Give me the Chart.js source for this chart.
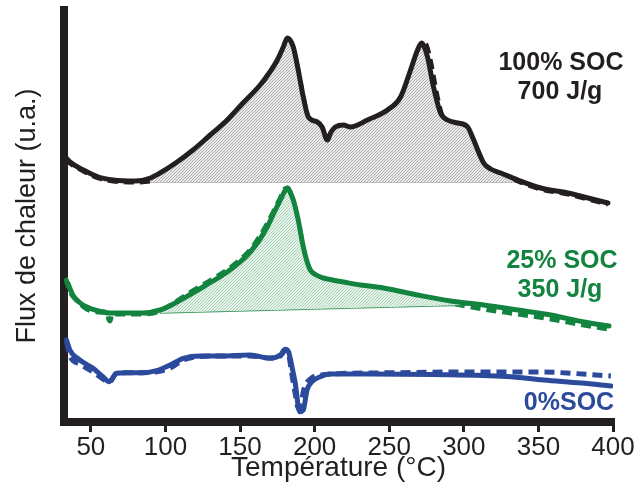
<!DOCTYPE html>
<html><head><meta charset="utf-8">
<script src="https://cdn.jsdelivr.net/npm/chart.js@4.4.1/dist/chart.umd.min.js"></script>
<style>html,body{margin:0;padding:0;background:#fff}</style>
</head><body>
<canvas id="c" width="640" height="491"></canvas>
<script>
// ---- data (temperature °C, heat flow in arbitrary units) ----
const xTicks = [50, 100, 150, 200, 250, 300, 350, 400];

const soc100SolidT = [33,36,45,55,65,80,90,96.4,107.8,118.5,130,141.4,152,163.5,170,175,179,181.7,183.5,185.7,189,192.4,195.8,201.8,205,208.5,211,213.9,219.3,224,235.4,248.8,257.6,264.3,269,271.7,273.5,275.7,279.7,284.4,289.1,296,302.6,306.6,313.3,318,324.8,336.2,351.6,369.8,383.2,396.6];
const soc100SolidY = [265,260,252,245,242,241,244,249,260,272,287,302,319,337,350,362,375,384,382,375,352,325,305,300,295,282,290,295,297,295,302,312,325,352,372,379,375,365,335,309,302,299,295,282,259,253,249,242,234,229,224,219];

const soc100DashT = [33,36,45,55,65,80,90,96.4,107.8,118.5,130,141.4,152,163.5,170,175,179,182,184,186,189,192.4,195.8,201.8,205,208.5,211,213.9,219.3,224,235.4,248.8,257.6,264.3,269,272.5,275,278,281.5,285,289.1,296,302.6,306.6,313.3,318,324.8,336.2,351.6,369.8,383.2,396.6];
const soc100DashY = [263,259,251,244,241,240,241,244,253,265,280,295,311,330,344,356,370,382,378,370,350,324,304,299,294,283,289,292,291,289,296,306,320,345,366,380,376,358,330,308,300,296,292,281,258,252,248,241,233,228,223,218];

const soc100BaseT = [89.6, 333.5];
const soc100BaseY = [240, 240];

const soc25SolidT = [34.5,37.9,42,47.3,55,62.8,75,84.9,96.4,107.8,116,125.2,133,141.4,150,156.8,163,168.2,173,177,180,181.7,183.5,185.7,189,192.4,195,197.1,201,205.8,212,219.3,230.7,246.2,269,291.2,313.3,336.2,358.3,380.5,397.3];
const soc25SolidY = [139,127,120,115,111,109,109,109,112,120,127,135,142,150,160,170,182,195,210,222,231,234,230,222,202,175,160,152,147,144,142,140,137,134,127,121,117,112,107,100,96];

const soc25DashT = [33,34.5,37,41,47.3,55,61,62,63,64,75,84.9,96.4,107.8,116,125.2,133,141.4,150,156.8,163,168.2,173,177,180,182,184,186,189,192.4,195,197.1,201,205.8,212,219.3,230.7,246.2,269,291.2,313.3,336.2,358.3,380.5,397.3];
const soc25DashY = [144,137,128,121,113,110,110,103,101,108,108,108,111,121,129,137,144,152,162,172,185,198,212,224,233,234,228,218,200,173,158,151,146,143,141,139,136,133,126,119,113,108,103,97,93];

const soc25BaseT = [96.4, 305];
const soc25BaseY = [109, 117];

const soc0SolidT = [33.7,35.9,42.6,51.5,58.1,62.3,67.3,74,84.9,94.1,103.1,112,123.2,136.7,156.8,170.2,177,180.3,182.5,184.8,187,189.9,192.4,194.9,198.3,203.8,210.6,237.4,278.9,328.8,353.6,378.8,398.6];
const soc0SolidY = [82,72,62,53.7,45.3,40.3,48.7,49.3,49.3,51.3,57,63.7,66,66,67,63.7,67,72.7,70.3,55.3,39,10.3,12,32,40.3,45.3,48,48,47.5,45.6,42,39,36];

const soc0DashT = [33.7,36,42.6,51.5,58.1,62.3,67.3,74,84.9,94.1,103.1,112,123.2,136.7,156.8,170.2,177,180.3,182.5,184.5,187,189,190.5,193,197,204,240,300,350,398.6];
const soc0DashY = [80,66,58,50,43,40,48.7,49.3,49.3,50.3,54,62,65.5,66,66,64,66,71,68,50,28,14,16,34,43,47,49,50,50,46];

const labels100 = ['100% SOC', '700 J/g'];
const labels25 = ['25% SOC', '350 J/g'];
const labels0 = ['0%SOC'];

// ---- styling ----
const FONT = '"Liberation Sans", Arial, Helvetica, sans-serif';
const INK = '#231f20';
const GREEN = '#12843f';
const BLUE = '#2c4a9c';

function pts(t, y) { return t.map((v, i) => ({x: v, y: y[i]})); }

function hatch(bg, line) {
  const c = document.createElement('canvas');
  c.width = 3; c.height = 3;
  const g = c.getContext('2d');
  g.fillStyle = bg; g.fillRect(0, 0, 3, 3);
  g.fillStyle = line;
  g.fillRect(2, 0, 1, 1);
  g.fillRect(1, 1, 1, 1);
  g.fillRect(0, 2, 1, 1);
  return g.createPattern(c, 'repeat');
}

const lineBase = {
  pointRadius: 0, borderWidth: 5, cubicInterpolationMode: 'monotone',
  borderJoinStyle: 'round', borderCapStyle: 'round', fill: false
};

const datasets = [
  Object.assign({}, lineBase, {label: '100 solid', data: pts(soc100SolidT, soc100SolidY), borderColor: INK,
    fill: {target: 6, above: hatch('#ebebeb', '#aeaeae'), below: 'rgba(0,0,0,0)'}}),
  Object.assign({}, lineBase, {label: '25 solid', data: pts(soc25SolidT, soc25SolidY), borderColor: GREEN,
    fill: {target: 7, above: hatch('#e8f3eb', '#a9d3b6'), below: 'rgba(0,0,0,0)'}}),
  Object.assign({}, lineBase, {label: '0 solid', data: pts(soc0SolidT, soc0SolidY), borderColor: BLUE}),
  Object.assign({}, lineBase, {label: '100 dash', data: pts(soc100DashT, soc100DashY), borderColor: INK, borderDash: [10, 6], borderCapStyle: 'butt'}),
  Object.assign({}, lineBase, {label: '25 dash', data: pts(soc25DashT, soc25DashY), borderColor: GREEN, borderDash: [10, 6], borderCapStyle: 'butt'}),
  Object.assign({}, lineBase, {label: '0 dash', data: pts(soc0DashT, soc0DashY), borderColor: BLUE, borderDash: [10, 6], borderCapStyle: 'butt'}),
  {label: '100 base', data: pts(soc100BaseT, soc100BaseY), borderColor: '#7a7a7a', borderWidth: 1.2, pointRadius: 0, fill: false},
  {label: '25 base', data: pts(soc25BaseT, soc25BaseY), borderColor: 'rgba(18,132,63,0.8)', borderWidth: 1.5, pointRadius: 0, fill: false}
];

const textPlugin = {
  id: 'curveLabels',
  afterDatasetsDraw(chart) {
    const ctx = chart.ctx;
    ctx.save();
    ctx.font = 'bold 25px ' + FONT;
    ctx.textAlign = 'center';
    ctx.textBaseline = 'alphabetic';
    ctx.fillStyle = INK;
    ctx.fillText(labels100[0], 561, 70);
    ctx.fillText(labels100[1], 560, 99);
    ctx.fillStyle = GREEN;
    ctx.fillText(labels25[0], 562, 268);
    ctx.fillText(labels25[1], 560, 297);
    ctx.fillStyle = BLUE;
    ctx.fillText(labels0[0], 569, 410);
    ctx.restore();
  }
};

new Chart(document.getElementById('c'), {
  type: 'line',
  data: {datasets},
  plugins: [textPlugin],
  options: {
    responsive: false, animation: false, devicePixelRatio: 1,
    layout: {padding: {top: 10, right: 27, left: 0, bottom: 0}},
    plugins: {legend: {display: false}, tooltip: {enabled: false}},
    elements: {line: {tension: 0}},
    scales: {
      x: {
        type: 'linear', position: 'bottom', min: 32, max: 400,
        afterBuildTicks: s => { s.ticks = xTicks.map(v => ({value: v})); },
        afterFit: s => { s.height = 69; },
        ticks: {font: {family: FONT, size: 26, lineHeight: 1}, color: INK, padding: 3, maxRotation: 0, autoSkip: false},
        grid: {display: true, drawOnChartArea: false, drawTicks: true, tickLength: 10, lineWidth: 3, color: INK},
        border: {display: true, width: 8, color: INK},
        title: {display: true, text: 'Température (°C)', color: INK, font: {family: FONT, size: 28, lineHeight: 1}, padding: {top: 0, bottom: 9}}
      },
      y: {
        type: 'linear', min: 0, max: 412,
        afterFit: s => { s.width = 64; },
        ticks: {display: false},
        grid: {display: false},
        border: {display: true, width: 8, color: INK},
        title: {display: true, text: 'Flux de chaleur (u.a.)', color: INK, font: {family: FONT, size: 27, lineHeight: 1}, padding: {top: 14, bottom: 0}}
      }
    }
  }
});
</script>
</body></html>
